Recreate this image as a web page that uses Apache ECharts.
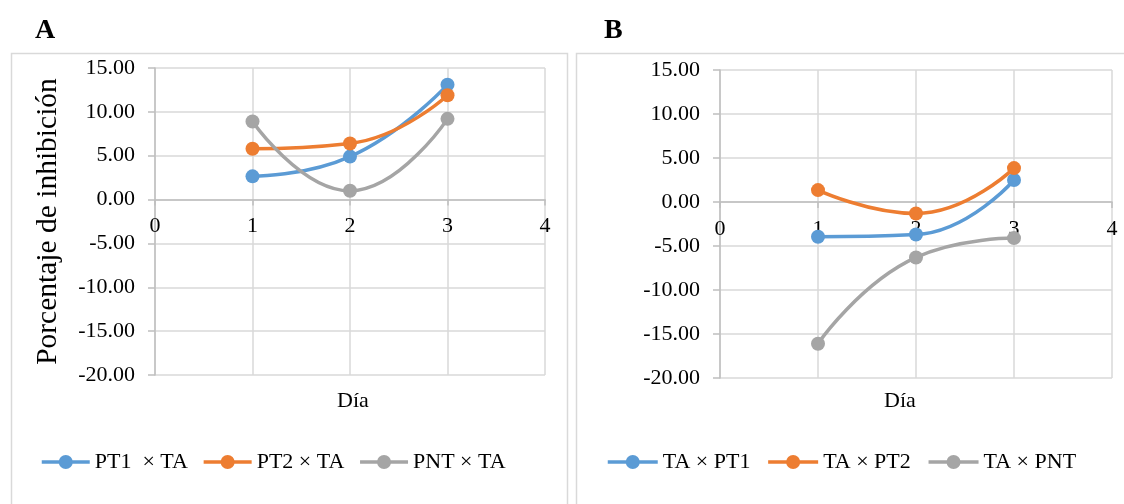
<!DOCTYPE html>
<html><head><meta charset="utf-8">
<script src="https://cdn.jsdelivr.net/npm/echarts@6/dist/echarts.min.js"></script>
<style>html,body{margin:0;padding:0;background:#fff}#c{width:1124px;height:504px}</style>
</head><body><div id="c"></div>
<script>
const days = [1, 2, 3];
const namesA = ['PT1  × TA', 'PT2 × TA', 'PNT × TA'];
const namesB = ['TA × PT1', 'TA × PT2', 'TA × PNT'];
const pt1A = [2.65, 4.9, 13.1];
const pt2A = [5.8, 6.4, 11.9];
const pntA = [8.9, 1.0, 9.2];
const pt1B = [-3.95, -3.7, 2.5];
const pt2B = [1.35, -1.3, 3.85];
const pntB = [-16.1, -6.3, -4.1];
const xMin = 0, xMax = 4, xStep = 1;
const yMin = -20, yMax = 15, yStep = 5;
const colors = ['#5b9bd5', '#ed7d31', '#a5a5a5'];
const FONT = 'Liberation Serif';
const H = 504;
const grids = [
  { left: 155, right: 579, top: 68, bottom: 129 },
  { left: 720, right: 12, top: 70, bottom: 126 }
];

function pts(arr) { return days.map((d, i) => [d, arr[i]]); }
function xAxis(gi) {
  const g = grids[gi];
  const gh = H - g.top - g.bottom;
  const off = -gh * (0 - yMin) / (yMax - yMin);
  return {
    gridIndex: gi, type: 'value', min: xMin, max: xMax, interval: xStep,
    position: 'bottom', offset: off,
    axisLine: { show: true, onZero: false, lineStyle: { color: '#bfbfbf', width: 1.5 } },
    axisTick: { show: true, length: 6, lineStyle: { color: '#bfbfbf', width: 1.5 } },
    axisLabel: { color: '#000', fontFamily: FONT, fontSize: 22, margin: 16 },
    splitLine: { show: true, lineStyle: { color: '#d9d9d9', width: 1.5 } }
  };
}
function yAxis(gi, name) {
  return {
    gridIndex: gi, type: 'value', min: yMin, max: yMax, interval: yStep,
    name: name, nameLocation: 'middle', nameGap: 92,
    nameTextStyle: { color: '#000', fontFamily: FONT, fontSize: 29.5 },
    axisLine: { show: true, onZero: false, lineStyle: { color: '#bfbfbf', width: 1.5 } },
    axisTick: { show: true, length: 7, lineStyle: { color: '#bfbfbf', width: 1.5 } },
    axisLabel: { color: '#000', fontFamily: FONT, fontSize: 22, margin: 20,
      formatter: v => v.toFixed(2) },
    splitLine: { show: true, lineStyle: { color: '#d9d9d9', width: 1.5 } }
  };
}
function ser(name, arr, gi, ci) {
  return {
    name: name, type: 'line', xAxisIndex: gi, yAxisIndex: gi, data: pts(arr),
    smooth: 0.5, symbol: 'circle', symbolSize: 14,
    lineStyle: { color: colors[ci], width: 3.5 },
    itemStyle: { color: colors[ci] }, z: 3 + ci
  };
}
function legend(names, left, iw, gap) {
  return {
    data: names, left: left, top: 446, itemWidth: iw, itemHeight: 17.5, itemGap: gap,
    lineStyle: { width: 3.5 },
    textStyle: { fontFamily: FONT, fontSize: 22, color: '#000' }
  };
}
const chart = echarts.init(document.getElementById('c'));
chart.setOption({
  animation: false,
  backgroundColor: '#fff',
  graphic: [
    { type: 'rect', shape: { x: 11.5, y: 53.5, width: 556, height: 470 },
      style: { fill: 'none', stroke: '#d9d9d9', lineWidth: 1.5 }, z: -1 },
    { type: 'rect', shape: { x: 576.5, y: 53.5, width: 570, height: 470 },
      style: { fill: 'none', stroke: '#d9d9d9', lineWidth: 1.5 }, z: -1 }
  ],
  title: [
    { text: 'A', left: 30, top: 12, textStyle: { fontFamily: FONT, fontSize: 28, fontWeight: 'bold', color: '#000' } },
    { text: 'B', left: 599, top: 12, textStyle: { fontFamily: FONT, fontSize: 28, fontWeight: 'bold', color: '#000' } },
    { text: 'Día', left: 348, top: 385, textAlign: 'center', textStyle: { fontFamily: FONT, fontSize: 22, fontWeight: 'normal', color: '#000' } },
    { text: 'Día', left: 895, top: 385, textAlign: 'center', textStyle: { fontFamily: FONT, fontSize: 22, fontWeight: 'normal', color: '#000' } }
  ],
  legend: [legend(namesA, 35, 48, 14), legend(namesB, 601, 50, 16)],
  grid: grids,
  xAxis: [xAxis(0), xAxis(1)],
  yAxis: [yAxis(0, 'Porcentaje de inhibición'), yAxis(1, '')],
  series: [
    ser(namesA[0], pt1A, 0, 0), ser(namesA[1], pt2A, 0, 1), ser(namesA[2], pntA, 0, 2),
    ser(namesB[0], pt1B, 1, 0), ser(namesB[1], pt2B, 1, 1), ser(namesB[2], pntB, 1, 2)
  ]
});
</script></body></html>
